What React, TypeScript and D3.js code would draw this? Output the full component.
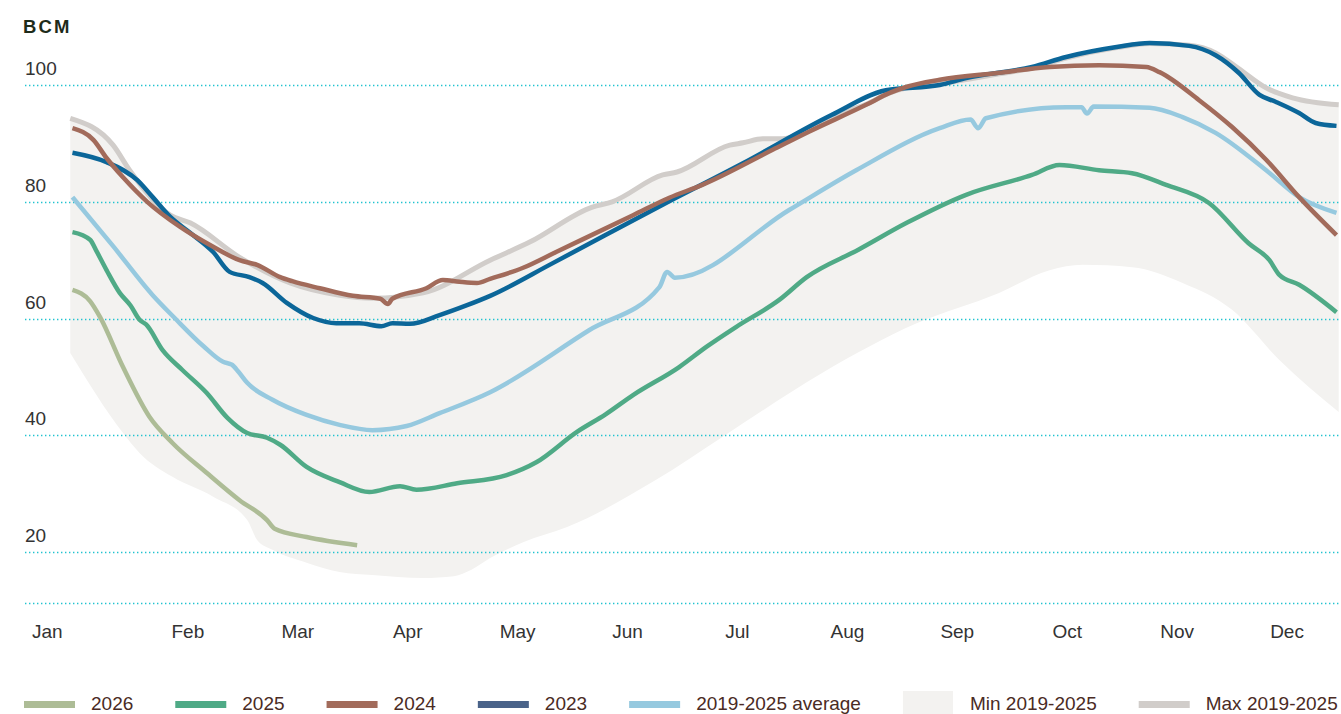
import React, { useEffect, useRef } from 'react';
import * as d3 from 'd3';

const W = 1341;
const H = 714;

// x values are in months since Jan 1 (0..12), y values in BCM
type P = [number, number];

const months = ['Jan', 'Feb', 'Mar', 'Apr', 'May', 'Jun', 'Jul', 'Aug', 'Sep', 'Oct', 'Nov', 'Dec'];
const yTicks = [20, 40, 60, 80, 100];

const s2026: P[] = [
  [0.45, 64.9], [0.61, 63.0], [0.70, 60.3], [0.91, 51.7], [1.15, 43.2], [1.36, 38.7],
  [1.67, 33.6], [1.97, 28.9], [2.22, 25.5], [2.29, 24.0], [2.58, 22.6], [3.04, 21.2],
];

const s2025: P[] = [
  [0.45, 74.8], [0.61, 73.5], [0.67, 71.5], [0.76, 68.3], [0.88, 64.4], [0.98, 62.2], [1.06, 59.8], [1.12, 59.0],
  [1.27, 54.6], [1.45, 51.2], [1.67, 47.3], [1.86, 43.0], [2.04, 40.4], [2.22, 39.6], [2.34, 38.4],
  [2.58, 34.6], [2.88, 32.0], [3.15, 30.3], [3.43, 31.3], [3.58, 30.7], [3.95, 31.8],
  [4.40, 33.2], [4.67, 35.4], [5.04, 40.6], [5.30, 43.6], [5.55, 46.9], [5.97, 51.7], [6.22, 55.2],
  [6.49, 58.6], [6.88, 63.2], [7.13, 67.1], [7.60, 71.8], [8.04, 76.4], [8.58, 81.2],
  [9.18, 84.6], [9.43, 86.3], [9.79, 85.4], [10.09, 84.9], [10.40, 82.9], [10.79, 79.8],
  [11.15, 72.9], [11.34, 70.0], [11.43, 67.5], [11.61, 65.8], [11.95, 61.1],
];

const s2024: P[] = [
  [0.45, 92.6], [0.64, 90.6], [0.76, 87.5], [0.91, 84.2], [1.13, 80.0], [1.43, 75.7],
  [1.73, 72.3], [1.97, 70.0], [2.13, 69.2], [2.34, 67.1], [2.45, 66.4], [2.70, 65.2],
  [3.00, 63.9], [3.25, 63.4], [3.32, 62.5], [3.36, 63.4], [3.67, 65.2], [3.82, 66.6],
  [3.97, 66.3], [4.13, 66.1], [4.25, 66.8], [4.55, 68.7], [4.85, 71.4], [5.55, 77.7],
  [5.88, 80.7], [6.18, 82.9], [6.82, 88.9], [7.15, 92.0], [7.67, 96.6], [7.88, 98.6],
  [8.04, 99.7], [8.34, 100.9], [8.88, 102.1], [9.34, 103.1], [9.79, 103.4], [10.22, 103.1],
  [10.34, 102.2], [10.70, 97.4], [11.00, 92.8], [11.31, 87.2], [11.61, 80.8], [11.95, 74.3],
];

const s2023: P[] = [
  [0.45, 88.4], [0.76, 86.8], [1.04, 83.7], [1.18, 80.8], [1.34, 77.4], [1.52, 74.7],
  [1.73, 71.4], [1.88, 68.0], [2.06, 67.1], [2.18, 66.1], [2.40, 62.7], [2.64, 60.1],
  [2.85, 59.2], [3.06, 59.2], [3.26, 58.7], [3.36, 59.2], [3.52, 59.1], [3.79, 60.6],
  [4.04, 62.3], [4.25, 63.9], [4.82, 69.5], [5.82, 79.5], [6.55, 86.6], [7.36, 94.9],
  [7.85, 99.1], [8.34, 100.0], [8.58, 101.2], [9.18, 103.1], [9.49, 104.8], [9.95, 106.5],
  [10.25, 107.2], [10.61, 106.7], [10.85, 105.1], [11.06, 102.1], [11.25, 98.3],
  [11.40, 97.1], [11.61, 95.2], [11.76, 93.5], [11.95, 93.0],
];

const sAverage: P[] = [
  [0.45, 80.8], [0.82, 72.4], [1.18, 64.0], [1.38, 60.1], [1.64, 55.3], [1.82, 52.6],
  [1.90, 52.1], [1.96, 50.9], [2.04, 49.0], [2.27, 46.1], [2.58, 43.5], [2.88, 41.8],
  [3.18, 40.9], [3.49, 41.6], [3.79, 43.8], [4.25, 47.4], [5.15, 58.0], [5.79, 65.4],
  [5.86, 68.0], [5.93, 67.0], [6.97, 78.6], [7.58, 85.4], [8.34, 92.6], [8.62, 94.1],
  [8.69, 92.6], [8.76, 94.3], [9.49, 96.2], [9.63, 96.2], [9.68, 95.1], [9.74, 96.3],
  [10.25, 96.1], [10.55, 94.5], [10.85, 91.8], [11.31, 85.4], [11.61, 80.8], [11.95, 78.1],
];

const sMin: P[] = [
  [0.43, 54.1], [0.91, 40.4], [1.06, 37.0], [1.36, 32.9], [1.73, 29.5], [2.04, 25.5],
  [2.13, 22.1], [2.27, 20.4], [2.58, 18.2], [2.88, 16.6], [3.18, 16.1], [3.64, 15.6],
  [3.92, 15.9], [4.08, 17.0], [4.25, 19.0], [4.55, 21.7], [4.95, 24.3], [5.76, 32.4], [6.36, 39.7],
  [7.27, 50.7], [8.13, 59.2], [8.88, 64.4], [9.34, 68.3], [9.64, 69.2], [10.09, 68.8],
  [10.55, 66.1], [11.00, 61.5], [11.43, 52.9], [11.97, 44.0],
];

const sMax: P[] = [
  [0.43, 94.3], [0.82, 89.7], [0.97, 85.4], [1.34, 77.7], [1.52, 76.4], [1.97, 70.5],
  [2.43, 66.1], [2.88, 64.0], [3.18, 63.5], [3.64, 64.4], [4.25, 70.0], [4.61, 73.1],
  [5.18, 79.1], [5.36, 80.0], [5.82, 84.6], [5.95, 85.1], [6.43, 89.7], [6.55, 90.1],
  [6.73, 90.8], [6.91, 90.8], [7.09, 91.8], [7.36, 94.7], [7.67, 96.7], [7.88, 98.6],
  [8.04, 99.5], [8.34, 100.2], [8.88, 101.9], [9.18, 102.9], [9.49, 104.6], [9.95, 106.4],
  [10.25, 107.1], [10.61, 106.8], [10.85, 105.5], [11.06, 102.8], [11.31, 99.5],
  [11.55, 97.8], [11.97, 96.6],
];

const legendLabels = ['2026', '2025', '2024', '2023', '2019-2025 average', 'Min 2019-2025', 'Max 2019-2025'];
const legendColors = ['#adbc96', '#4faa86', '#a26b5b', '#4a6389', '#96c9df', '#f3f2f0', '#d1cdca'];

const FONT = '"Liberation Sans", Arial, sans-serif';

export default function App() {
  const ref = useRef<SVGSVGElement | null>(null);

  useEffect(() => {
    const svg = d3.select(ref.current);
    svg.selectAll('*').remove();

    const x = d3.scaleLinear().domain([0, 12]).range([23, 1342]);
    const y = d3.scaleLinear().domain([11.3, 100]).range([603, 85]);

    const line = d3.line<P>().x(d => x(d[0])).y(d => y(d[1])).curve(d3.curveMonotoneX);

    // min–max band
    const top = line(sMax) as string;
    const bottom = (line(sMin.slice().reverse()) as string).replace(/^M/, 'L');
    svg.append('path').attr('d', top + bottom + 'Z').attr('fill', '#f3f2f0');

    // gridlines
    const grid = [11.3, ...yTicks];
    svg.append('g').selectAll('line').data(grid).join('line')
      .attr('x1', 25).attr('x2', W)
      .attr('y1', d => Math.round(y(d)) + 0.5).attr('y2', d => Math.round(y(d)) + 0.5)
      .attr('stroke', '#22c3cf').attr('stroke-width', 1.4)
      .attr('stroke-dasharray', '1.4 2.6');

    // y tick labels
    svg.append('g').selectAll('text').data(yTicks).join('text')
      .attr('x', 25).attr('y', d => y(d) - 10)
      .attr('font-family', FONT).attr('font-size', 19).attr('fill', '#333')
      .text(d => String(d));

    svg.append('text').attr('x', 23).attr('y', 33)
      .attr('font-family', FONT).attr('font-size', 18.5).attr('font-weight', 700)
      .attr('letter-spacing', 2.2).attr('fill', '#1e2b1a').text('BCM');

    // month labels
    svg.append('g').selectAll('text').data(months).join('text')
      .attr('x', (_, i) => (i === 0 ? x(0) + 9 : x(i + 0.5)))
      .attr('text-anchor', (_, i) => (i === 0 ? 'start' : 'middle'))
      .attr('y', 638)
      .attr('font-family', FONT).attr('font-size', 19).attr('fill', '#333')
      .text(d => d);

    const series: { data: P[]; color: string; w: number }[] = [
      { data: sMax, color: '#d1cdca', w: 5 },
      { data: sAverage, color: '#96c9df', w: 4.5 },
      { data: s2025, color: '#4faa86', w: 4.5 },
      { data: s2026, color: '#adbc96', w: 4.5 },
      { data: s2023, color: '#0b6699', w: 4.5 },
      { data: s2024, color: '#a26b5b', w: 4.5 },
    ];
    svg.append('g').selectAll('path').data(series).join('path')
      .attr('d', d => line(d.data) as string)
      .attr('fill', 'none')
      .attr('stroke', d => d.color)
      .attr('stroke-width', d => d.w)
      .attr('stroke-linejoin', 'round');

    // legend
    const lg = svg.append('g');
    let cx = 24;
    legendLabels.forEach((lab, i) => {
      if (i === 5) {
        lg.append('rect').attr('x', cx).attr('y', 691).attr('width', 50).attr('height', 23).attr('fill', legendColors[i]);
      } else {
        lg.append('rect').attr('x', cx).attr('y', 701).attr('width', 51).attr('height', 7).attr('fill', legendColors[i]);
      }
      const t = lg.append('text').attr('x', cx + 67).attr('y', 710)
        .attr('font-family', FONT).attr('font-size', 19).attr('fill', '#4a2b24').text(lab);
      const tw = (t.node() as SVGTextElement).getComputedTextLength();
      cx = cx + 67 + tw + 42;
    });
  }, []);

  return (
    <svg
      ref={ref}
      width={W}
      height={H}
      style={{ position: 'absolute', left: 0, top: 0, display: 'block', background: '#fff' }}
    />
  );
}
